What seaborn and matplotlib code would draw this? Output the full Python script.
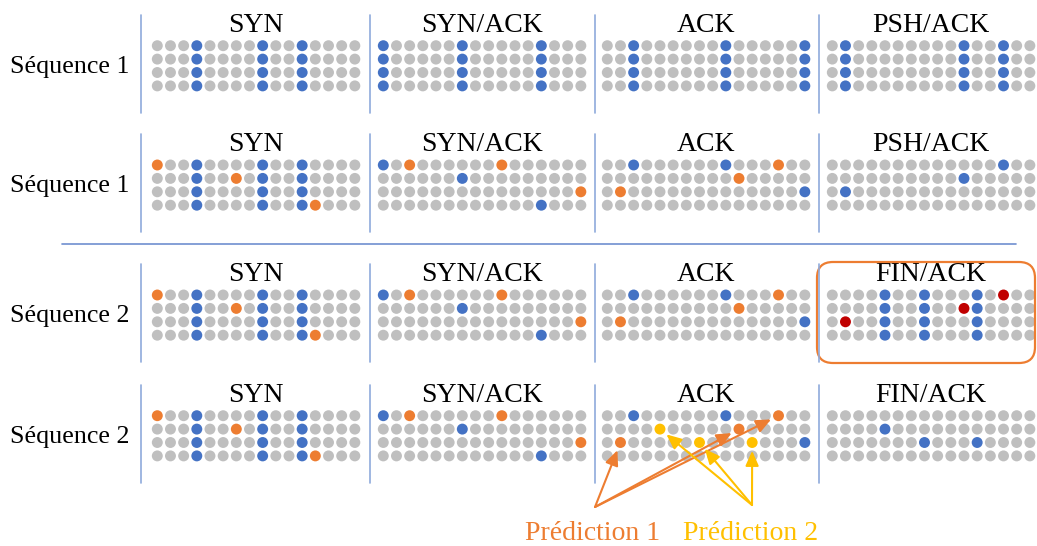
import numpy as np
import pandas as pd
import seaborn as sns
import matplotlib.pyplot as plt
from matplotlib.lines import Line2D
from matplotlib.patches import FancyBboxPatch
from matplotlib.transforms import IdentityTransform

# --- data -------------------------------------------------------------
n_cols = 16
n_rows = 4

row_labels = ["Séquence 1", "Séquence 1", "Séquence 2", "Séquence 2"]
panel_titles = [
    ["SYN", "SYN/ACK", "ACK", "PSH/ACK"],
    ["SYN", "SYN/ACK", "ACK", "PSH/ACK"],
    ["SYN", "SYN/ACK", "ACK", "FIN/ACK"],
    ["SYN", "SYN/ACK", "ACK", "FIN/ACK"],
]

# full columns that are set in the original packets
full_cols = [
    [[3, 8, 11], [0, 6, 12], [2, 9, 15], [1, 10, 13]],
    [[3, 8, 11], [], [], []],
    [[3, 8, 11], [], [], [4, 7, 11]],
    [[3, 8, 11], [], [], []],
]

# single highlighted cells: (row, col)
blue_cells = [
    [[], [], [], []],
    [[], [(0, 0), (1, 6), (3, 12)], [(0, 2), (0, 9), (2, 15)], [(0, 13), (1, 10), (2, 1)]],
    [[], [(0, 0), (1, 6), (3, 12)], [(0, 2), (0, 9), (2, 15)], []],
    [[], [(0, 0), (1, 6), (3, 12)], [(0, 2), (0, 9), (2, 15)], [(1, 4), (2, 7), (2, 11)]],
]
orange_cells = [
    [[], [], [], []],
    [[(0, 0), (1, 6), (3, 12)], [(0, 2), (0, 9), (2, 15)], [(0, 13), (1, 10), (2, 1)], []],
    [[(0, 0), (1, 6), (3, 12)], [(0, 2), (0, 9), (2, 15)], [(0, 13), (1, 10), (2, 1)], []],
    [[(0, 0), (1, 6), (3, 12)], [(0, 2), (0, 9), (2, 15)], [(0, 13), (1, 10), (2, 1)], []],
]
red_cells = [
    [[], [], [], []],
    [[], [], [], []],
    [[], [], [], [(0, 13), (1, 10), (2, 1)]],
    [[], [], [], []],
]
yellow_cells = [
    [[], [], [], []],
    [[], [], [], []],
    [[], [], [], []],
    [[], [], [(1, 4), (2, 7), (2, 11)], []],
]

palette = {"vide": "#BFBFBF", "bleu": "#4472C4", "orange": "#ED7D31",
           "rouge": "#C00000", "jaune": "#FFC000"}

# --- layout (pixels, top-left origin) ---------------------------------
W, H = 1037, 546
panel_x0 = [157.3, 383.3, 607.3, 832.3]   # first dot centre per panel column
row_y0 = [45.7, 165.0, 295.0, 415.7]      # first dot centre per panel row
sep_x = [141, 370, 595, 819]
dx, dy = 13.17, 13.4


def fx(x):
    return x / W


def fy(y):
    return 1 - y / H


sns.set_theme(style="white")
plt.rcParams["font.family"] = ["Liberation Serif", "DejaVu Serif"]

fig = plt.figure(figsize=(W / 100, H / 100), dpi=100)

axes = {}
for r in range(4):
    for p in range(4):
        left = panel_x0[p] - 0.5 * dx
        top = row_y0[r] - 0.5 * dy
        ax = fig.add_axes([fx(left), fy(top + n_rows * dy), n_cols * dx / W, n_rows * dy / H])

        cc, rr = np.meshgrid(np.arange(n_cols), np.arange(n_rows))
        df = pd.DataFrame({"col": cc.ravel(), "row": rr.ravel(), "etat": "vide"})
        df.loc[df["col"].isin(full_cols[r][p]), "etat"] = "bleu"
        for name, cells in [("bleu", blue_cells), ("orange", orange_cells),
                            ("rouge", red_cells), ("jaune", yellow_cells)]:
            for (ri, ci) in cells[r][p]:
                df.loc[(df["row"] == ri) & (df["col"] == ci), "etat"] = name

        sns.scatterplot(data=df, x="col", y="row", hue="etat", palette=palette,
                        s=62, linewidth=0, legend=False, ax=ax, clip_on=False)
        ax.set_xlim(-0.5, n_cols - 0.5)
        ax.set_ylim(n_rows - 0.5, -0.5)
        ax.axis("off")
        ax.set_title(panel_titles[r][p], fontsize=20, pad=5, color="black")
        axes[(r, p)] = ax

        # vertical separator left of each panel
        fig.add_artist(Line2D([fx(sep_x[p]), fx(sep_x[p])],
                              [fy(row_y0[r] - 31), fy(row_y0[r] + 67)],
                              color="#8FAADC", lw=1.2))

    fig.text(fx(10), fy(row_y0[r] + 21), row_labels[r], ha="left", va="center",
             fontsize=18.7, color="black")

# separation between the two sequences
fig.add_artist(Line2D([fx(62), fx(1016)], [fy(244), fy(244)], color="#6F8FD0", lw=1.2))

# highlight box around the predicted FIN/ACK
box = FancyBboxPatch((817, H - 363), 218, 101,
                     boxstyle="round,pad=0,rounding_size=16",
                     transform=IdentityTransform(), fill=False,
                     ec="#ED7D31", lw=1.6)
fig.add_artist(box)

# prediction arrows
ack_ax = axes[(3, 2)]
arrow_sets = [("Prédiction 1", orange_cells[3][2], "#ED7D31", (595, 507), 525),
              ("Prédiction 2", yellow_cells[3][2], "#FFC000", (752, 505), 683)]
for label, cells, color, origin, text_x in arrow_sets:
    for (ri, ci) in cells:
        ack_ax.annotate("", xy=(ci, ri), xycoords="data",
                        xytext=(origin[0], H - origin[1]), textcoords="figure pixels",
                        arrowprops=dict(arrowstyle="-|>,head_length=0.45,head_width=0.2",
                                        mutation_scale=20, color=color, lw=1.5,
                                        shrinkA=0, shrinkB=6),
                        annotation_clip=False)
    fig.text(fx(text_x), fy(539.5), label, ha="left", va="baseline",
             fontsize=20, color=color)

fig.savefig("out.png", dpi=100)
